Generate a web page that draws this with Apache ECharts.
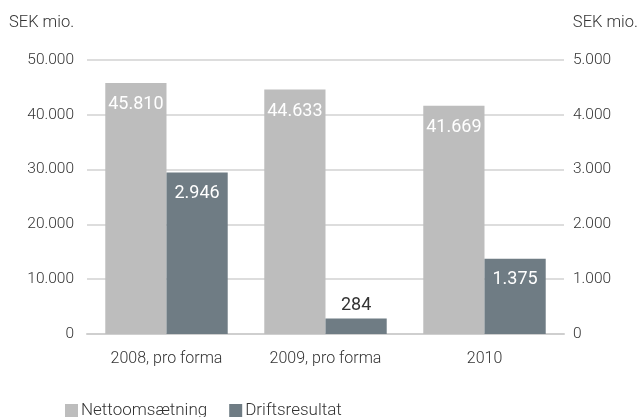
<!DOCTYPE html>
<html>
<head>
<meta charset="utf-8">
<script src="https://cdn.jsdelivr.net/npm/echarts@6/dist/echarts.min.js"></script>
<style>
  html, body { margin: 0; padding: 0; background: #fff; }
  #chart { width: 640px; height: 417px; }
</style>
</head>
<body>
<div id="chart"></div>
<script>
const categories = ['2008, pro forma', '2009, pro forma', '2010']
const nettoomsaetning = [45810, 44633, 41669]
const driftsresultat = [2946, 284, 1375]
const seriesNames = ['Nettoomsætning', 'Driftsresultat']
const unitLabel = 'SEK mio.'

const FONT = 'Roboto'
const fmt = v => String(v).replace(/\B(?=(\d{3})+(?!\d))/g, '.')

const chart = echarts.init(document.getElementById('chart'))

const option = {
  animation: false,
  textStyle: { fontFamily: FONT, fontWeight: 300 },
  grid: { left: 87, right: 76, top: 60, bottom: 83 },
  graphic: [
    { type: 'text', left: 9, top: 14, style: { text: unitLabel, font: '300 16.5px Roboto', fill: '#333' } },
    { type: 'text', right: 2, top: 14, style: { text: unitLabel, font: '300 16.5px Roboto', fill: '#333' } }
  ],
  legend: {
    left: 60, top: 397,
    itemWidth: 13, itemHeight: 13, itemGap: 22,
    icon: 'rect',
    textStyle: { fontFamily: FONT, fontWeight: 300, fontSize: 17, color: '#333', padding: [0, 0, 0, -2] },
    data: seriesNames
  },
  xAxis: {
    type: 'category',
    data: categories,
    axisLine: { lineStyle: { color: '#cfcfcf', width: 2 } },
    axisTick: { show: false },
    axisLabel: { fontSize: 16, color: '#333', margin: 17, fontFamily: FONT, fontWeight: 300 }
  },
  yAxis: [
    {
      type: 'value', min: 0, max: 50000, interval: 10000,
      axisLine: { show: false }, axisTick: { show: false },
      axisLabel: { fontSize: 15.5, color: '#333', margin: 13, formatter: fmt, fontFamily: FONT, fontWeight: 300 },
      splitLine: { lineStyle: { color: '#d2d2d2', width: 1.5 } }
    },
    {
      type: 'value', min: 0, max: 5000, interval: 1000,
      axisLine: { show: false }, axisTick: { show: false },
      axisLabel: { fontSize: 15.5, color: '#333', margin: 9, formatter: fmt, fontFamily: FONT, fontWeight: 300 },
      splitLine: { show: false }
    }
  ],
  series: [
    {
      name: seriesNames[0], type: 'bar', yAxisIndex: 0,
      data: nettoomsaetning,
      barGap: 0, barCategoryGap: '23%',
      itemStyle: { color: '#bdbdbd' },
      label: {
        show: true, position: 'insideTop', distance: 13,
        color: '#fff', fontSize: 18, fontFamily: FONT, fontWeight: 400,
        formatter: p => fmt(p.value)
      }
    },
    {
      name: seriesNames[1], type: 'bar', yAxisIndex: 1,
      data: driftsresultat.map(v => v < 500
        ? { value: v, label: { position: 'top', color: '#333', distance: 4 } }
        : v),
      itemStyle: { color: '#6f7c84' },
      label: {
        show: true, position: 'insideTop', distance: 12,
        color: '#fff', fontSize: 18, fontFamily: FONT, fontWeight: 400,
        formatter: p => fmt(p.value)
      }
    }
  ]
}

chart.setOption(option)
</script>
</body>
</html>
